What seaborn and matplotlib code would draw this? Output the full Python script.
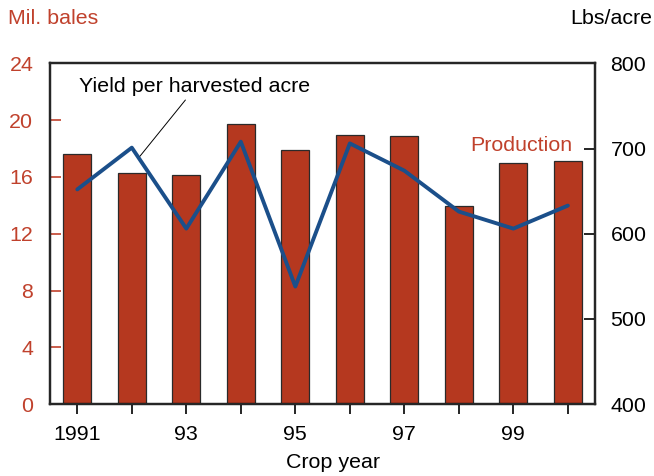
import numpy as np
import pandas as pd
import matplotlib
matplotlib.use("Agg")
import matplotlib.pyplot as plt
import seaborn as sns

# datos
years = [1991, 1992, 1993, 1994, 1995, 1996, 1997, 1998, 1999, 2000]
year_labels = ["1991", "", "93", "", "95", "", "97", "", "99", ""]
production = [17.6, 16.25, 16.15, 19.7, 17.9, 18.95, 18.85, 13.95, 16.95, 17.15]  # mil. bales
yield_acre = [652, 701, 606, 708, 538, 706, 674, 626, 606, 633]  # lbs/acre

red = "#b5381f"
red_text = "#c0412c"
blue = "#1b4f8a"

sns.set_style("ticks")
plt.rcParams["font.family"] = ["Liberation Sans", "DejaVu Sans"]
plt.rcParams["font.size"] = 15.4
plt.rcParams["text.color"] = "black"

df = pd.DataFrame({"year": years, "production": production, "yield": yield_acre})

fig = plt.figure(figsize=(6.54, 4.76), dpi=100)
ax = fig.add_axes([0.0765, 0.151, 0.8335, 0.716])

sns.barplot(data=df, x="year", y="production", color=red, saturation=1,
            width=0.51, edgecolor="#2a2a2a", linewidth=0.9, ax=ax)
ax.set_ylim(0, 24)
ax.set_xlim(-0.5, 9.5)
ax.set_yticks(np.arange(0, 25, 4))
ax.set_xticks(range(len(years)))
ax.set_xticklabels(year_labels)
ax.set_ylabel("")
ax.set_xlabel("Crop year", fontsize=15.4, color="black")
ax.xaxis.set_label_coords(0.52, -0.143)
ax.tick_params(axis="y", direction="in", length=8, width=1.2, pad=12, colors=red_text)
ax.tick_params(axis="x", direction="out", length=7, width=1.2, pad=8, colors="black")
for s in ax.spines.values():
    s.set_linewidth(1.6)
    s.set_color("black")

ax2 = ax.twinx()
df["pos"] = np.arange(len(years))
sns.lineplot(data=df, x="pos", y="yield", color=blue, linewidth=2.8, ax=ax2)
ax2.set_ylim(400, 800)
ax2.set_yticks([400, 500, 600, 700, 800])
ax2.set_ylabel("")
ax2.set_xlabel("")
ax2.set_xlim(-0.5, 9.5)
ax2.tick_params(axis="y", direction="in", length=8, width=1.2, pad=11, colors="black")
for s in ax2.spines.values():
    s.set_linewidth(1.6)

ax2.annotate("Yield per harvested acre", xy=(1.15, 691), xycoords="data",
             xytext=(0.053, 0.933), textcoords="axes fraction",
             ha="left", va="center", fontsize=15.4, color="black",
             arrowprops=dict(arrowstyle="-", color="black", lw=0.7,
                             relpos=(0.476, 0.0), shrinkA=1, shrinkB=0))
ax2.text(0.771, 0.76, "Production", transform=ax2.transAxes,
         ha="left", va="center", fontsize=15.4, color=red_text)

fig.text(0.012, 0.962, "Mil. bales", ha="left", va="center", fontsize=15.4, color=red_text)
fig.text(0.997, 0.962, "Lbs/acre", ha="right", va="center", fontsize=15.4, color="black")

fig.savefig("out.png", dpi=100)
